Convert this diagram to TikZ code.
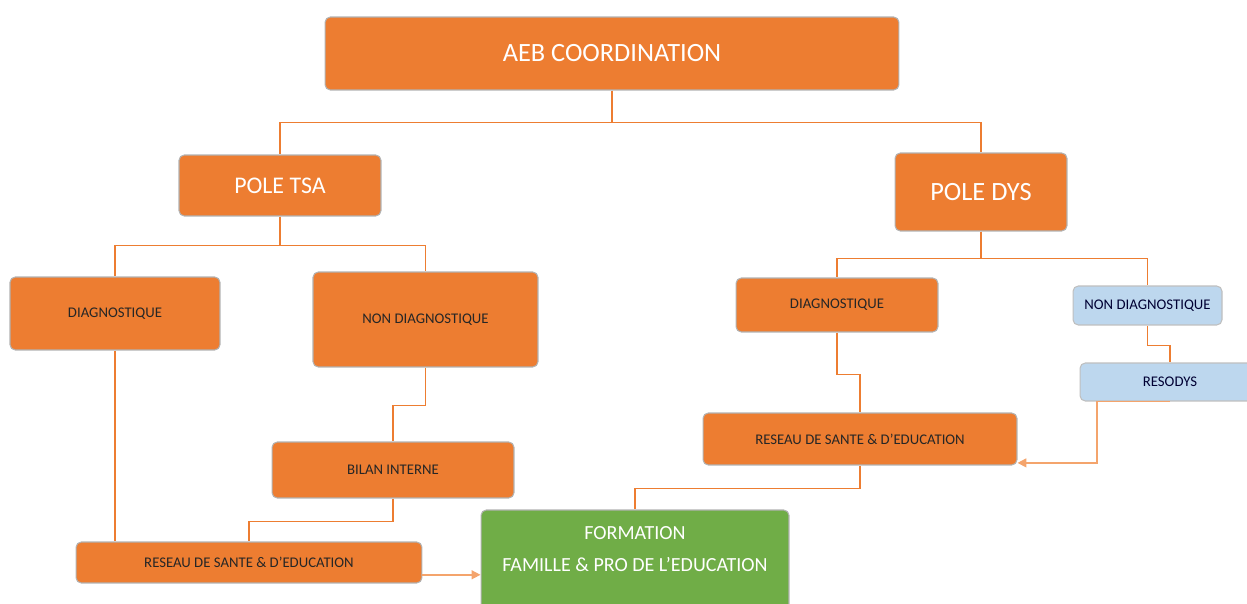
\documentclass[tikz,border=0pt]{standalone}
\usepackage{fontspec}
\setmainfont{Carlito}
\usetikzlibrary{arrows.meta}
\definecolor{aeborange}{HTML}{ED7D31}
\definecolor{aebgreen}{HTML}{70AD47}
\definecolor{aebblue}{HTML}{BDD7EE}
\definecolor{lightorange}{HTML}{F4A46C}

\begin{document}
\begin{tikzpicture}[x=0.02cm,y=-0.02cm,
    box/.style={rectangle, rounded corners=3pt, draw=gray!60, line width=0.6pt,
      fill=aeborange, align=center, inner sep=0pt},
    bigbox/.style={box, text=white},
    smallbox/.style={box, text=black!85, font=\fontsize{8.4}{10}\selectfont},
    bluebox/.style={smallbox, fill=aebblue, draw=gray!50, text=black!80!blue},
    link/.style={draw=aeborange, line width=0.6pt},
    arrowlink/.style={draw=lightorange, line width=0.9pt, -{Triangle[length=5pt,width=5pt]}}]
    \useasboundingbox (0,0) rectangle (1247,604);
    \clip (0,0) rectangle (1247,604);

    % top level
    \node[bigbox, minimum width=11.48cm, minimum height=1.46cm, font=\fontsize{15}{18}\selectfont]
      (aeb) at (612,53.5) {AEB COORDINATION};
    \node[bigbox, minimum width=4.04cm, minimum height=1.22cm, font=\fontsize{13.6}{16}\selectfont]
      (tsa) at (280,185.5) {POLE TSA};
    \node[bigbox, minimum width=3.44cm, minimum height=1.56cm, font=\fontsize{15}{18}\selectfont]
      (dys) at (981,192) {POLE DYS};

    % pole TSA
    \node[smallbox, minimum width=4.2cm, minimum height=1.46cm] (diagtsa) at (115,313.5) {DIAGNOSTIQUE};
    \node[smallbox, minimum width=4.5cm, minimum height=1.9cm] (nondiagtsa) at (425.5,319.5) {NON DIAGNOSTIQUE};
    \node[smallbox, minimum width=4.84cm, minimum height=1.12cm] (bilan) at (393,470) {BILAN INTERNE};
    \node[smallbox, minimum width=6.92cm, minimum height=0.82cm] (reseautsa) at (249,562.5) {RESEAU DE SANTE \& D’EDUCATION};

    % pole DYS
    \node[smallbox, minimum width=4.04cm, minimum height=1.08cm] (diagdys) at (837,305) {DIAGNOSTIQUE};
    \node[bluebox, minimum width=2.98cm, minimum height=0.78cm] (nondiagdys) at (1147.5,305.5) {NON DIAGNOSTIQUE};
    \node[bluebox, minimum width=3.6cm, minimum height=0.76cm] (resodys) at (1170,382) {RESODYS};
    \node[smallbox, minimum width=6.28cm, minimum height=1.04cm] (reseaudys) at (860,439) {RESEAU DE SANTE \& D’EDUCATION};

    % formation
    \node[bigbox, fill=aebgreen, minimum width=6.16cm, minimum height=2.2cm,
      font=\fontsize{11.4}{18}\selectfont] (formation) at (635,565)
      {FORMATION\\FAMILLE \& PRO DE L’EDUCATION\\ };

    % connectors
    \foreach \p/\c/\d in {aeb/tsa/32, aeb/dys/32,
        tsa/diagtsa/29, tsa/nondiagtsa/29,
        dys/diagdys/27, dys/nondiagdys/27,
        nondiagtsa/bilan/38, bilan/reseautsa/23,
        diagdys/reseaudys/42, reseaudys/formation/23,
        nondiagdys/resodys/20}
    {
        \draw[link] (\p.south) -- ++(0,\d) -| (\c.north);
    };
    \draw[link, line width=1.1pt] (diagtsa.south) -- (diagtsa.south |- reseautsa.north);
    \draw[arrowlink] ([yshift=-7pt]reseautsa.east) -- ([yshift=-7pt]reseautsa.east -| formation.west);
    \draw[arrowlink] (resodys.south) -- ++(-73,0) |- ([yshift=-13.6pt]reseaudys.east);
\end{tikzpicture}
\end{document}
